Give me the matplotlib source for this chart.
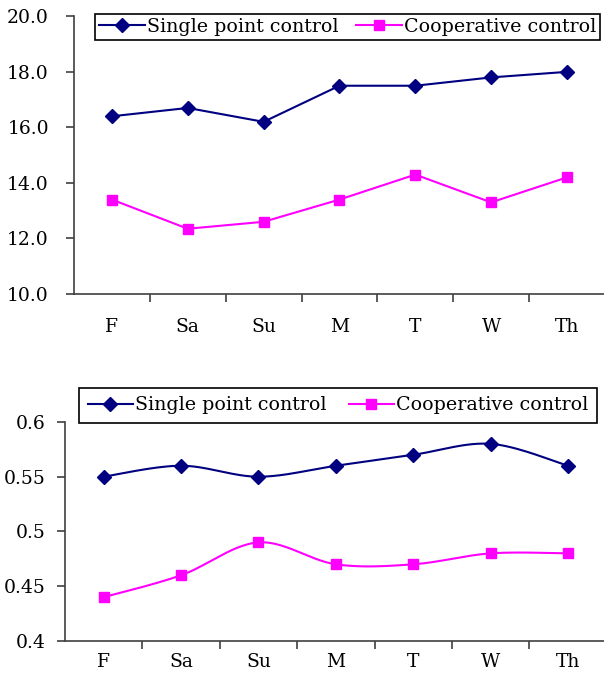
import numpy as np
import matplotlib
matplotlib.use("Agg")
import matplotlib.pyplot as plt
from matplotlib.ticker import FixedLocator, NullFormatter, FixedFormatter

days = ["F", "Sa", "Su", "M", "T", "W", "Th"]

# top chart
single_top = [16.4, 16.7, 16.2, 17.5, 17.5, 17.8, 18.0]
coop_top = [13.4, 12.35, 12.6, 13.4, 14.3, 13.3, 14.2]
yticks_top = [10.0, 12.0, 14.0, 16.0, 18.0, 20.0]

# bottom chart (smoothed lines)
single_bot = [0.55, 0.56, 0.55, 0.56, 0.57, 0.58, 0.56]
coop_bot = [0.44, 0.46, 0.49, 0.47, 0.47, 0.48, 0.48]
yticks_bot = [0.4, 0.45, 0.5, 0.55, 0.6]
yticklabels_bot = ["0.4", "0.45", "0.5", "0.55", "0.6"]

navy = "#000080"
magenta = "#FF00FF"
plt.rcParams["font.family"] = ["DejaVu Serif"]
FS = 13.5
LFS = 13.7


def smooth(xs, ys, n=30):
    # bezier smoothing like a spreadsheet "smoothed line"
    p = np.column_stack([xs, ys]).astype(float)
    pts = np.vstack([p[0], p, p[-1]])
    out = []
    for i in range(1, len(pts) - 2):
        p0, p1, p2, p3 = pts[i - 1], pts[i], pts[i + 1], pts[i + 2]
        c1 = p1 + (p2 - p0) / 6
        c2 = p2 - (p3 - p1) / 6
        t = np.linspace(0, 1, n)[:, None]
        seg = (1 - t) ** 3 * p1 + 3 * (1 - t) ** 2 * t * c1 + 3 * (1 - t) * t ** 2 * c2 + t ** 3 * p2
        out.append(seg if i == 1 else seg[1:])
    s = np.vstack(out)
    return s[:, 0], s[:, 1]


def style_axes(ax, ylim, yticks, ylabels, ypad, xpad):
    x = np.arange(len(days))
    ax.set_xlim(-0.5, len(days) - 0.5)
    ax.set_ylim(*ylim)
    for side in ["top", "right"]:
        ax.spines[side].set_visible(False)
    for side in ["left", "bottom"]:
        ax.spines[side].set_color("#404040")
        ax.spines[side].set_linewidth(1.2)
    ax.xaxis.set_major_locator(FixedLocator(np.arange(0.5, len(days) - 0.5, 1)))
    ax.xaxis.set_major_formatter(NullFormatter())
    ax.xaxis.set_minor_locator(FixedLocator(x))
    ax.xaxis.set_minor_formatter(FixedFormatter(days))
    ax.tick_params(axis="x", which="major", length=6, width=1.2, color="#404040", direction="out")
    ax.tick_params(axis="x", which="minor", length=0, pad=xpad, labelsize=FS)
    ax.set_yticks(yticks)
    ax.set_yticklabels(ylabels)
    ax.tick_params(axis="y", length=6, width=1.2, color="#404040", direction="out", pad=ypad, labelsize=FS)


fig = plt.figure(figsize=(6.04, 6.74), dpi=100)

# ---- top ----
ax1 = fig.add_axes([0.1225, 0.5638, 0.879, 0.412])
x = np.arange(len(days))
ax1.plot(x, single_top, color=navy, lw=1.5, marker="D", ms=7, label="Single point control")
ax1.plot(x, coop_top, color=magenta, lw=1.5, marker="s", ms=7, label="Cooperative control")
style_axes(ax1, (10, 20), yticks_top, ["%.1f" % v for v in yticks_top], 12, 17)
ax1.legend(loc="lower left", bbox_to_anchor=(95 / 604, 1 - 40 / 674, 505 / 604, 32 / 674),
           bbox_transform=fig.transFigure, mode="expand", ncol=2, fontsize=LFS,
           frameon=True, fancybox=False, edgecolor="black", framealpha=1,
           handlelength=2.4, handletextpad=0.1, columnspacing=0.6, borderaxespad=0,
           borderpad=0.22)
ax1.get_legend().get_frame().set_linewidth(1.2)

# ---- bottom ----
ax2 = fig.add_axes([0.1076, 0.049, 0.897, 0.325])
sx, sy = smooth(x, single_bot)
cx, cy = smooth(x, coop_bot)
ax2.plot(sx, sy, color=navy, lw=1.5)
ax2.plot(cx, cy, color=magenta, lw=1.5)
ax2.plot(x, single_bot, color=navy, lw=0, marker="D", ms=7)
ax2.plot(x, coop_bot, color=magenta, lw=0, marker="s", ms=7)
style_axes(ax2, (0.4, 0.6), yticks_bot, yticklabels_bot, 8, 9)
h1, = ax2.plot([], [], color=navy, lw=1.5, marker="D", ms=7)
h2, = ax2.plot([], [], color=magenta, lw=1.5, marker="s", ms=7)
leg = ax2.legend([h1, h2], ["Single point control", "Cooperative control"],
                 loc="lower left", bbox_to_anchor=(79 / 604, 1 - 423 / 674, 518 / 604, 37 / 674),
                 bbox_transform=fig.transFigure, mode="expand", ncol=2, fontsize=LFS,
                 frameon=True, fancybox=False, edgecolor="black", framealpha=1,
                 handlelength=2.4, handletextpad=0.1, columnspacing=1.5, borderaxespad=0,
                 borderpad=0.45)
leg.get_frame().set_linewidth(1.2)

fig.savefig("out.png", dpi=100)
